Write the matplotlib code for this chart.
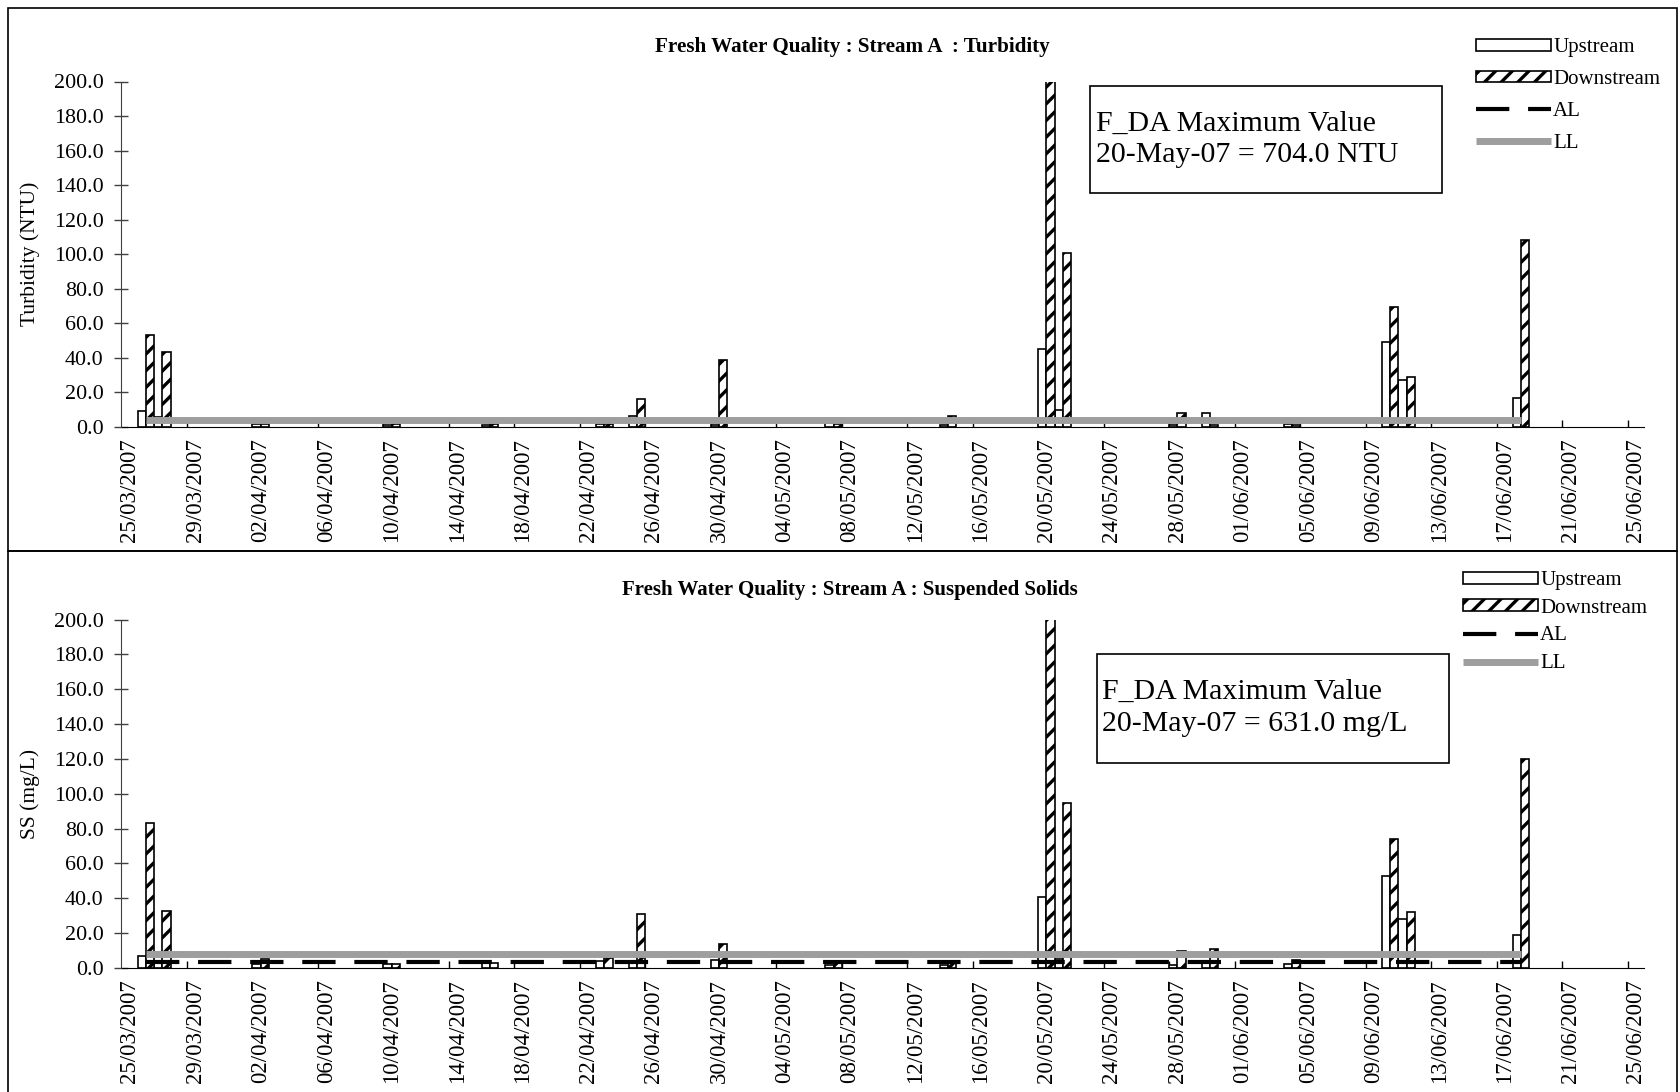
"""
Fresh water quality - Stream A: turbidity and suspended solids
"""

import numpy as np
import pandas as pd
import matplotlib
matplotlib.use("Agg")
import matplotlib.pyplot as plt
import matplotlib.dates as mdates
from matplotlib.patches import Patch, Rectangle
from matplotlib.lines import Line2D

plt.rcParams['font.family'] = ['Liberation Serif', 'DejaVu Serif']
plt.rcParams['hatch.linewidth'] = 2.4

# Sampling dates
sample_dates = ['2007-03-26', '2007-03-27', '2007-04-02', '2007-04-10', '2007-04-16',
                '2007-04-23', '2007-04-25', '2007-04-30', '2007-05-07', '2007-05-14',
                '2007-05-20', '2007-05-21', '2007-05-28', '2007-05-30', '2007-06-04',
                '2007-06-10', '2007-06-11', '2007-06-18']

# Turbidity (NTU)
turb_up = [9.0, 6.0, 1.5, 1.0, 1.0, 1.5, 6.5, 1.0, 2.5, 1.0,
           45.0, 10.0, 1.0, 8.0, 2.0, 49.0, 27.0, 16.5]
turb_down = [53.0, 43.5, 2.0, 1.5, 1.5, 2.0, 16.0, 38.5, 1.5, 6.5,
             704.0, 101.0, 8.0, 1.0, 1.0, 69.5, 29.0, 108.0]
turb_al = 4.0
turb_ll = 4.0

# Suspended solids (mg/L)
ss_up = [7.0, 3.0, 2.5, 2.5, 3.0, 4.0, 3.0, 4.5, 2.0, 1.5,
         41.0, 5.0, 2.0, 3.0, 2.5, 53.0, 28.0, 19.0]
ss_down = [83.0, 33.0, 5.0, 2.5, 3.0, 5.5, 31.0, 14.0, 3.5, 3.5,
           631.0, 95.0, 9.5, 11.0, 4.5, 74.0, 32.0, 120.0]
ss_al = 3.7
ss_ll = 8.0

y_ticks = [0, 20, 40, 60, 80, 100, 120, 140, 160, 180, 200]
axis_start = '2007-03-25'
axis_end = '2007-06-25'

W, H = 1681, 1092
LL_COLOR = '#9e9e9e'


def box(x0, y0, x1, y1):
    # pixel box (top-left origin) -> figure fraction rect
    return [x0 / W, 1 - y1 / H, (x1 - x0) / W, (y1 - y0) / H]


def draw_panel(ax, up, down, al, ll, ylabel):
    x = mdates.date2num(pd.to_datetime(sample_dates))
    ax.bar(x - 0.25, up, width=0.5, color='white', edgecolor='black',
           linewidth=1.2, zorder=2)
    ax.bar(x + 0.25, down, width=0.5, color='white', edgecolor='black',
           hatch='//', linewidth=1.2, zorder=2)
    ax.plot(x, np.full(len(x), al), color='black', lw=3, dashes=(8, 4.5),
            zorder=3, solid_capstyle='butt')
    ax.plot(x, np.full(len(x), ll), color=LL_COLOR, lw=5, zorder=4,
            solid_capstyle='butt')

    start = mdates.date2num(pd.Timestamp(axis_start))
    end = mdates.date2num(pd.Timestamp(axis_end))
    ax.set_xlim(start - 0.5, end + 0.5)
    ax.set_ylim(0, 200)

    ax.set_yticks(y_ticks)
    ax.set_yticklabels([f"{v:.1f}" for v in y_ticks])
    label_dates = pd.date_range(axis_start, axis_end, freq='4D')
    ax.set_xticks(mdates.date2num(label_dates))
    ax.set_xticklabels([d.strftime('%d/%m/%Y') for d in label_dates], rotation=90)
    ax.set_xticks(mdates.date2num(label_dates[1:]) - 0.5, minor=True)

    ax.tick_params(axis='x', which='major', length=0, pad=8, labelsize=16.5)
    ax.tick_params(axis='x', which='minor', length=5, width=1, direction='in')
    ax.tick_params(axis='y', length=10, width=1, direction='inout', pad=8,
                   labelsize=15.8, color='#404040')

    for side in ('top', 'right'):
        ax.spines[side].set_visible(False)
    ax.spines['left'].set_color('#404040')
    ax.spines['bottom'].set_color('black')

    ax.set_ylabel(ylabel, fontsize=15.5)
    ax.yaxis.set_label_coords(-0.0535, 0.5)


def legend_handles():
    return [Patch(facecolor='white', edgecolor='black', linewidth=1.2),
            Patch(facecolor='white', edgecolor='black', hatch='//', linewidth=1.2),
            Line2D([], [], color='black', lw=3, dashes=(8, 4.5)),
            Line2D([], [], color=LL_COLOR, lw=5, solid_capstyle='butt')]


fig = plt.figure(figsize=(W / 100, H / 100), dpi=100)

# chart area borders
for rect in (box(8, 8, 1677, 551), box(8, 551, 1677, 1100)):
    fig.patches.append(Rectangle((rect[0], rect[1]), rect[2], rect[3],
                                 transform=fig.transFigure, fill=False,
                                 edgecolor='black', linewidth=1.2))

ax1 = fig.add_axes(box(121.5, 81.5, 1644, 427))
draw_panel(ax1, turb_up, turb_down, turb_al, turb_ll, 'Turbidity (NTU)')

ax2 = fig.add_axes(box(121.5, 619.6, 1644, 968))
draw_panel(ax2, ss_up, ss_down, ss_al, ss_ll, 'SS (mg/L)')

# titles
fig.text(852 / W, 1 - 47 / H, 'Fresh Water Quality : Stream A  : Turbidity',
         ha='center', va='center', fontsize=15.2, fontweight='bold')
fig.text(850 / W, 1 - 590 / H, 'Fresh Water Quality : Stream A : Suspended Solids',
         ha='center', va='center', fontsize=15, fontweight='bold')

# maximum value boxes
labels = ['Upstream', 'Downstream', 'AL', 'LL']
for rect, tx, ty, txt in [
        (box(1090, 86, 1442, 193), 1096, 139.5,
         'F_DA Maximum Value\n20-May-07 = 704.0 NTU'),
        (box(1097, 654, 1449, 763), 1102, 708,
         'F_DA Maximum Value\n20-May-07 = 631.0 mg/L')]:
    fig.patches.append(Rectangle((rect[0], rect[1]), rect[2], rect[3],
                                 transform=fig.transFigure, facecolor='white',
                                 edgecolor='black', linewidth=1.2, zorder=5))
    fig.text(tx / W, 1 - ty / H, txt, ha='left', va='center', fontsize=21.5,
             linespacing=1.3, zorder=6)

# legends
fig.legend(legend_handles(), labels, loc='upper left',
           bbox_to_anchor=(1476 / W, 1 - 38 / H), frameon=False, fontsize=15,
           handlelength=3.6, handleheight=0.5, handletextpad=0.1,
           labelspacing=0.62, borderpad=0, borderaxespad=0)
fig.legend(legend_handles(), labels, loc='upper left',
           bbox_to_anchor=(1463 / W, 1 - 571 / H), frameon=False, fontsize=15,
           handlelength=3.6, handleheight=0.5, handletextpad=0.1,
           labelspacing=0.42, borderpad=0, borderaxespad=0)

fig.savefig('out.png', dpi=100)
